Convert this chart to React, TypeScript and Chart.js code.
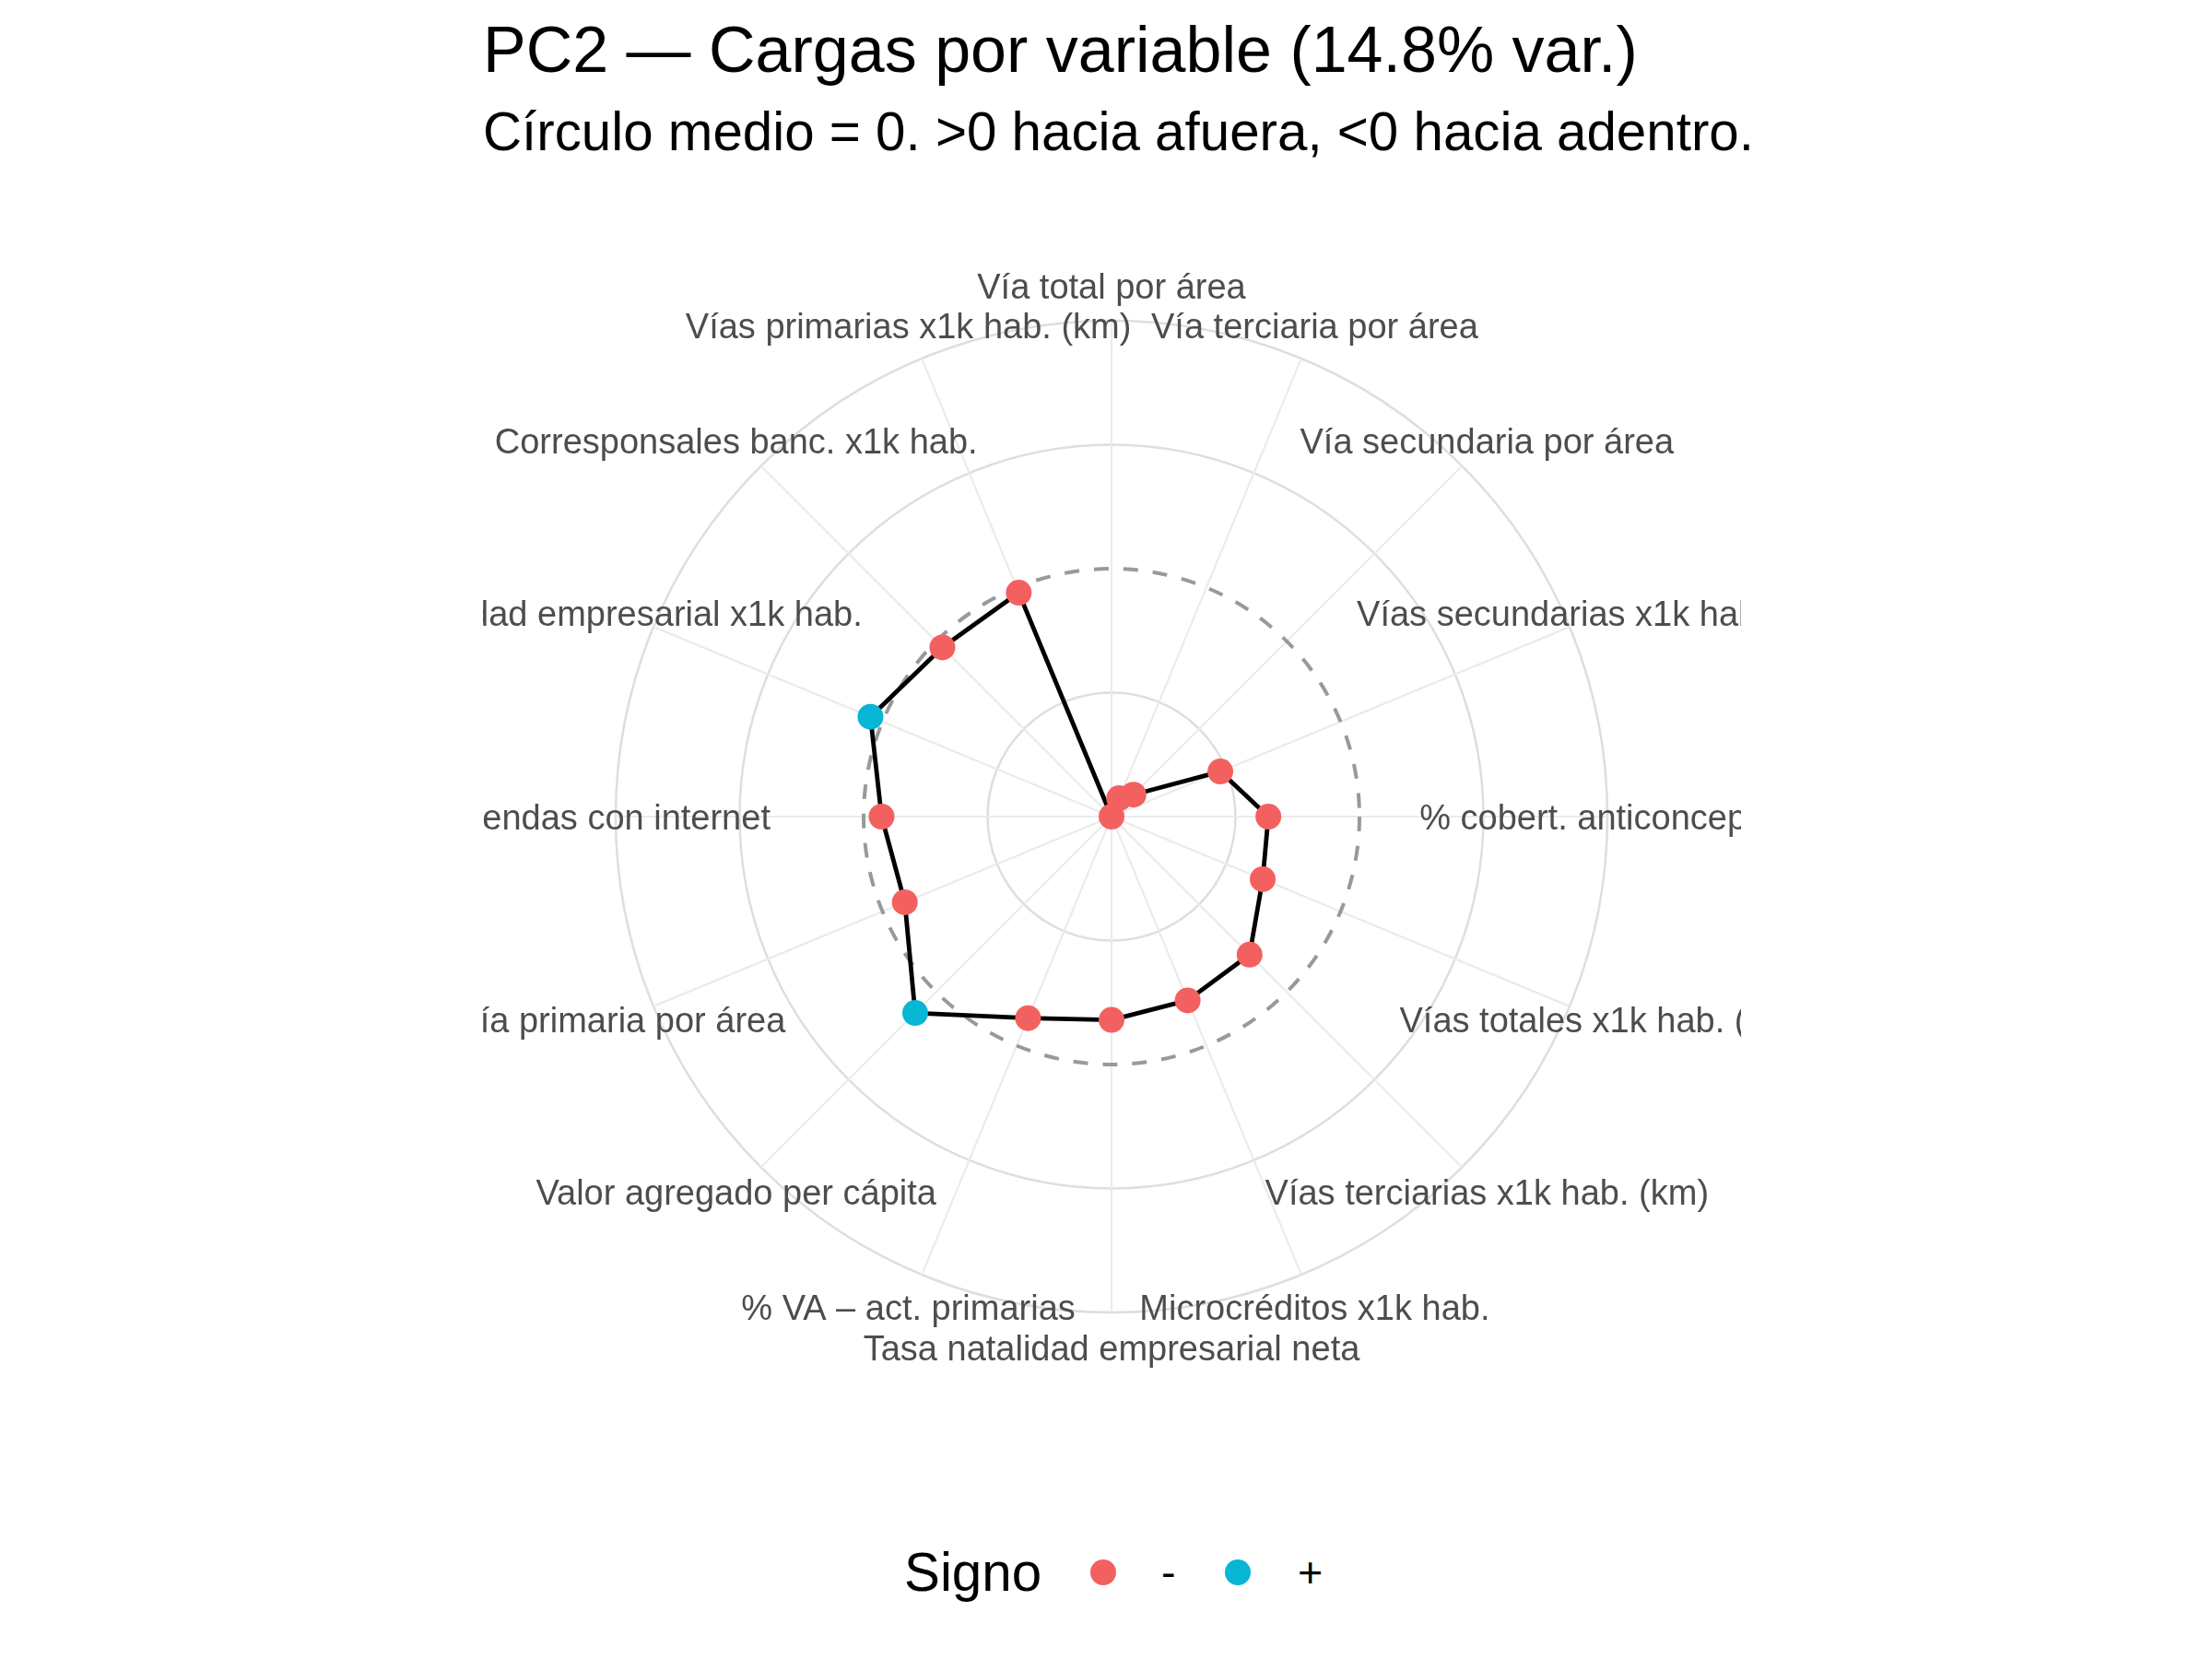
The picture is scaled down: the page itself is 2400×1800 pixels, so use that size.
import React, { useEffect, useRef } from "react";
import { Chart, registerables } from "chart.js";

Chart.register(...registerables);

// ---- data ----
const categories: string[] = [
  "Vía total por área",
  "Vía terciaria por área",
  "Vía secundaria por área",
  "Vías secundarias x1k hab. (km)",
  "% cobert. anticonceptiva (%)",
  "Vías totales x1k hab. (km)",
  "Vías terciarias x1k hab. (km)",
  "Microcréditos x1k hab.",
  "Tasa natalidad empresarial neta",
  "% VA – act. primarias",
  "Valor agregado per cápita",
  "Vía primaria por área",
  "% viviendas con internet",
  "Densidad empresarial x1k hab.",
  "Corresponsales banc. x1k hab.",
  "Vías primarias x1k hab. (km)",
];
const loadings: number[] = [
  -0.4, -0.368, -0.35, -0.21, -0.147, -0.136, -0.085, -0.079, -0.072, -0.048,
  0.048, -0.039, -0.029, 0.021, -0.014, -0.009,
];
const radialTicks: number[] = [-0.4, -0.2, 0, 0.2, 0.4];
const zeroLine = 0;
const signLabels: string[] = ["-", "+"];

const TITLE = "PC2 — Cargas por variable (14.8% var.)";
const SUBTITLE = "Círculo medio = 0. >0 hacia afuera, <0 hacia adentro.";
const LEGEND_TITLE = "Signo";

const RED = "#F26160";
const BLUE = "#07B5D5";
const FONT = '"Liberation Sans", Arial, Helvetica, sans-serif';

const PANEL = { left: 524, top: 204, size: 1365 };
const LABEL_RATIO = 576 / 538;
const LABEL_FONT = 38;

const zeroCirclePlugin = {
  id: "zeroCircle",
  beforeDatasetsDraw(chart: any) {
    const s = chart.scales.r;
    const ctx = chart.ctx;
    const r = s.getDistanceFromCenterForValue(zeroLine);
    ctx.save();
    ctx.beginPath();
    ctx.arc(s.xCenter, s.yCenter, r, 0, Math.PI * 2);
    ctx.strokeStyle = "#999999";
    ctx.lineWidth = 4;
    ctx.setLineDash([16, 16]);
    ctx.lineCap = "butt";
    ctx.stroke();
    ctx.restore();
  },
};

const thetaLabelPlugin = {
  id: "thetaLabels",
  afterDatasetsDraw(chart: any) {
    const s = chart.scales.r;
    const ctx = chart.ctx;
    const labels: string[] = chart.data.labels;
    ctx.save();
    ctx.font = `${LABEL_FONT}px ${FONT}`;
    ctx.fillStyle = "#4D4D4D";
    ctx.textAlign = "center";
    ctx.textBaseline = "alphabetic";
    labels.forEach((lab, i) => {
      const p = s.getPointPosition(i, s.drawingArea * LABEL_RATIO);
      ctx.fillText(lab, p.x, p.y + LABEL_FONT * 0.358);
    });
    ctx.restore();
  },
};

export default function App() {
  const ref = useRef<HTMLCanvasElement | null>(null);

  useEffect(() => {
    document.body.style.margin = "0";
    if (!ref.current) return;
    const chart = new Chart(ref.current, {
      type: "radar",
      data: {
        labels: categories,
        datasets: [
          {
            label: "PC2",
            data: loadings,
            borderColor: "#000000",
            borderWidth: 4.8,
            borderJoinStyle: "round",
            fill: false,
            tension: 0,
            pointRadius: 14,
            pointHoverRadius: 14,
            pointBorderWidth: 0,
            pointBackgroundColor: loadings.map((v) => (v >= 0 ? BLUE : RED)),
            pointBorderColor: loadings.map((v) => (v >= 0 ? BLUE : RED)),
          } as any,
        ],
      },
      options: {
        animation: false,
        responsive: false,
        maintainAspectRatio: false,
        layout: { padding: 144.5 },
        plugins: {
          legend: { display: false },
          tooltip: { enabled: false },
          title: { display: false },
        },
        scales: {
          r: {
            min: radialTicks[0],
            max: radialTicks[radialTicks.length - 1],
            afterBuildTicks: (s: any) => {
              s.ticks = radialTicks.map((v) => ({ value: v }));
            },
            ticks: { display: false },
            grid: {
              circular: true,
              color: (c: any) =>
                c.tick && Math.abs(c.tick.value - zeroLine) < 1e-9
                  ? "rgba(0,0,0,0)"
                  : "#DEDEDE",
              lineWidth: 2.5,
            },
            angleLines: { display: true, color: "#EBEBEB", lineWidth: 2.2 },
            pointLabels: { display: false },
          },
        },
      } as any,
      plugins: [zeroCirclePlugin, thetaLabelPlugin],
    });
    return () => chart.destroy();
  }, []);

  const abs = (o: React.CSSProperties): React.CSSProperties => ({
    position: "absolute",
    whiteSpace: "nowrap",
    lineHeight: 1,
    fontFamily: FONT,
    margin: 0,
    ...o,
  });

  return (
    <div
      style={{
        position: "absolute",
        left: 0,
        top: 0,
        width: 2400,
        height: 1800,
        background: "#ffffff",
        overflow: "hidden",
      }}
    >
      <div style={abs({ left: 524, top: 19, fontSize: 70, color: "#000" })}>{TITLE}</div>
      <div style={abs({ left: 524, top: 114, fontSize: 58.3, color: "#000" })}>{SUBTITLE}</div>
      <canvas
        ref={ref}
        width={PANEL.size}
        height={PANEL.size}
        style={{
          position: "absolute",
          left: PANEL.left,
          top: PANEL.top,
          width: PANEL.size,
          height: PANEL.size,
        }}
      />
      <div style={abs({ left: 981, top: 1676.6, fontSize: 58.3, color: "#000" })}>{LEGEND_TITLE}</div>
      <div
        style={{
          position: "absolute",
          left: 1183,
          top: 1691.7,
          width: 28,
          height: 28,
          borderRadius: "50%",
          background: RED,
        }}
      />
      <div style={abs({ left: 1260, top: 1682.5, fontSize: 46.7, color: "#000" })}>{signLabels[0]}</div>
      <div
        style={{
          position: "absolute",
          left: 1329,
          top: 1691.7,
          width: 28,
          height: 28,
          borderRadius: "50%",
          background: BLUE,
        }}
      />
      <div style={abs({ left: 1408, top: 1682.5, fontSize: 46.7, color: "#000" })}>{signLabels[1]}</div>
    </div>
  );
}
